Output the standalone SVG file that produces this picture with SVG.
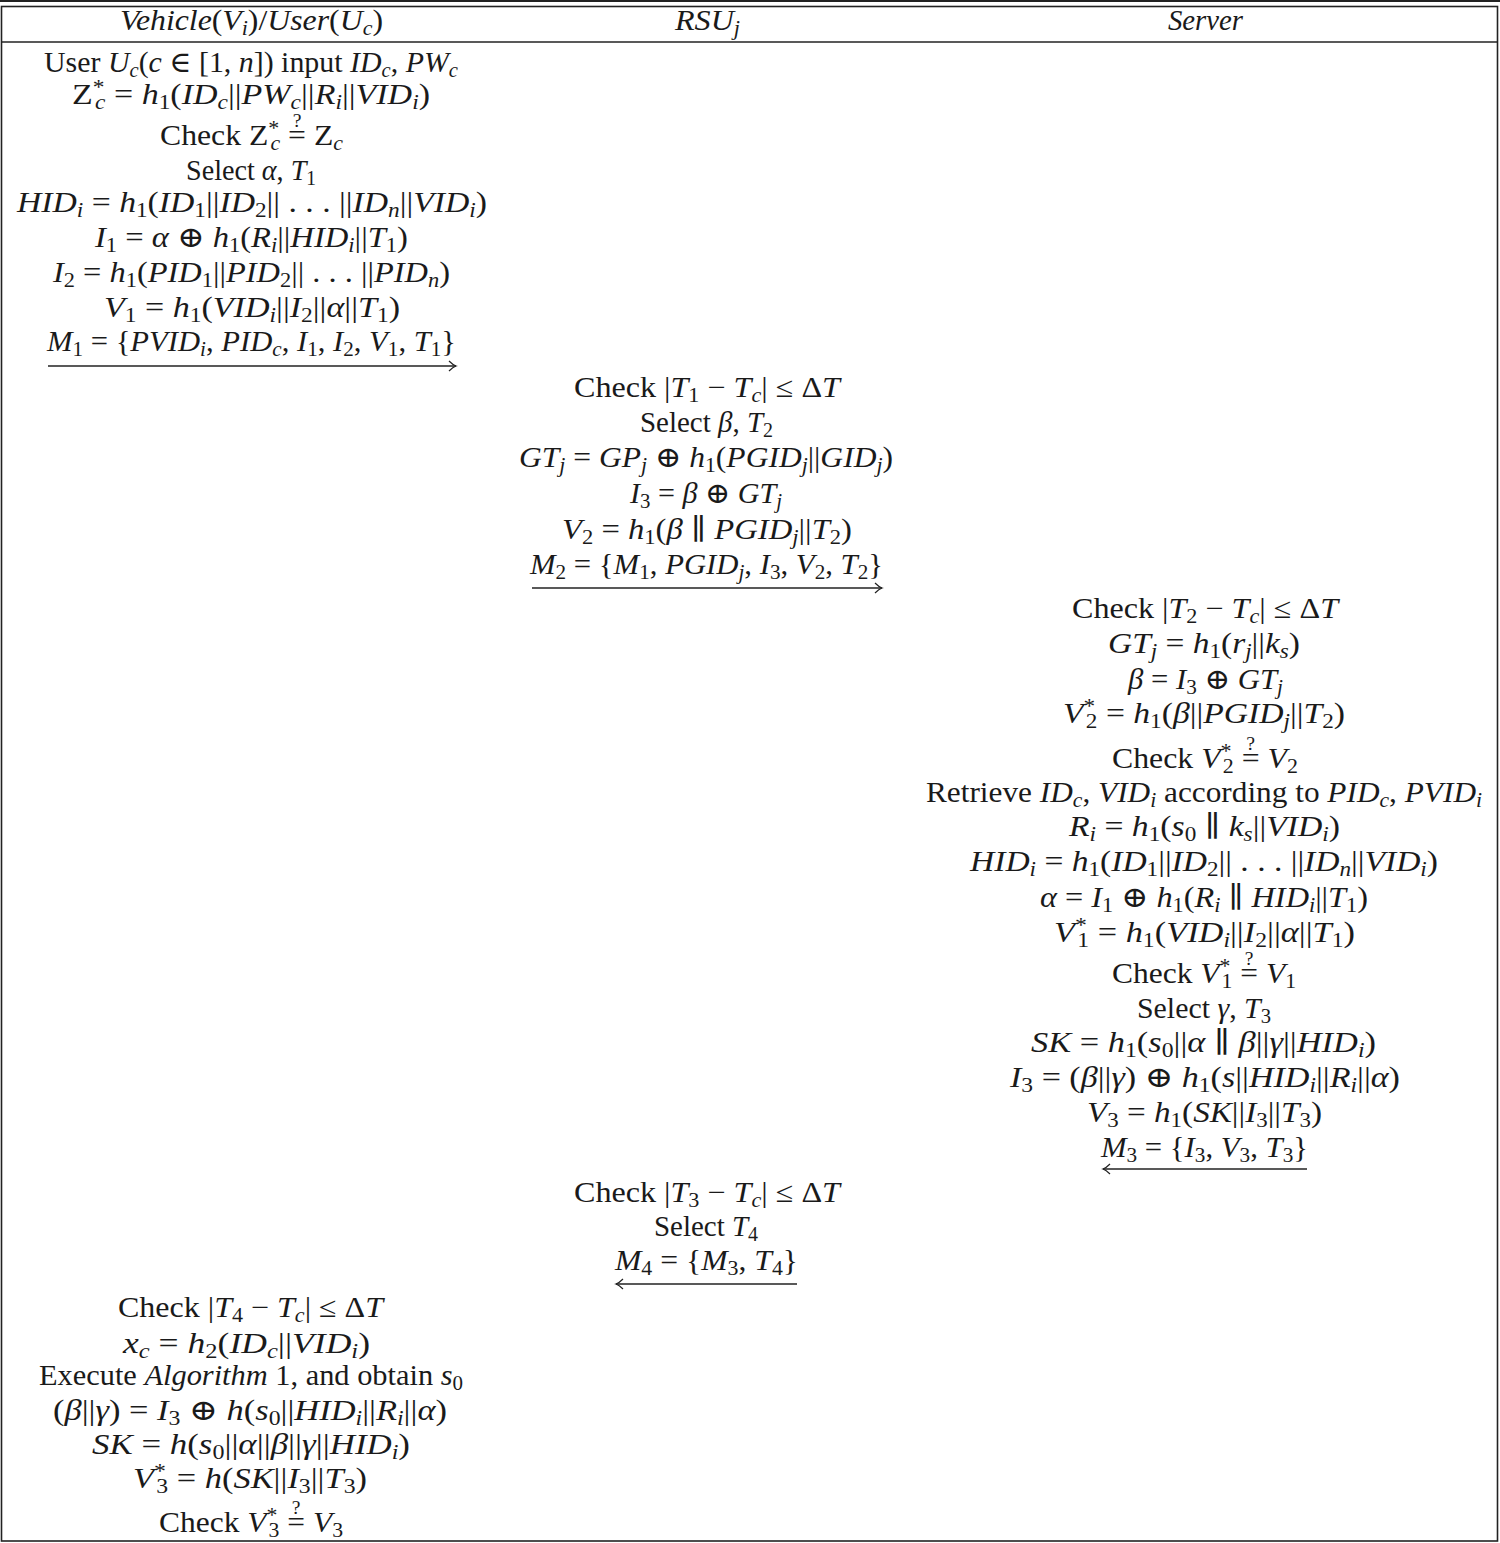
<svg xmlns="http://www.w3.org/2000/svg" width="1500" height="1543" viewBox="0 0 1500 1543">
<style>
text{font-family:"Liberation Serif","DejaVu Serif",serif;font-size:29px;fill:#1a1a1a}
.i{font-style:italic}
.b{font-size:20px;baseline-shift:-5px}
.bi{font-size:20px;baseline-shift:-5px;font-style:italic}
.p{font-size:20px;baseline-shift:10px}
.q{font-size:18px}
.ln{stroke:#222;fill:none}
.ar{stroke:#222;stroke-width:1.3;fill:none}
</style>
<defs>
<marker id="ah" viewBox="-10 -6 12 12" refX="0" refY="0" markerWidth="12" markerHeight="12" markerUnits="userSpaceOnUse" orient="auto">
<path d="M-7,-5 Q-3,-1 0,0 Q-3,1 -7,5" stroke="#222" stroke-width="1.2" fill="none"/>
</marker>
</defs>
<rect width="1500" height="1543" fill="#fff"/>
<g id="frame">
<line class="ln" x1="0" y1="1" x2="1500" y2="1" stroke-width="2"/>
<rect class="ln" x="1.5" y="6.5" width="1496" height="1534.5" stroke-width="1.6"/>
<line class="ln" x1="1.5" y1="42" x2="1497.5" y2="42" stroke-width="1.6" stroke="#444"/>
</g>
<g id="headers">
<text x="120" y="30" textLength="263" lengthAdjust="spacingAndGlyphs"><tspan class="i">Vehicle</tspan>(<tspan class="i">V</tspan><tspan class="bi">i</tspan>)/<tspan class="i">User</tspan>(<tspan class="i">U</tspan><tspan class="bi">c</tspan>)</text>
<text x="675" y="30" textLength="65" lengthAdjust="spacingAndGlyphs"><tspan class="i">RSU</tspan><tspan class="bi">j</tspan></text>
<text x="1168" y="30" textLength="75" lengthAdjust="spacingAndGlyphs" class="i">Server</text>
</g>
<g id="vehicle-step1">
<text x="44" y="72" textLength="414" lengthAdjust="spacingAndGlyphs">User <tspan class="i">U</tspan><tspan class="bi">c</tspan>(<tspan class="i">c</tspan> ∈ [1, <tspan class="i">n</tspan>]) input <tspan class="i">ID</tspan><tspan class="bi">c</tspan>, <tspan class="i">PW</tspan><tspan class="bi">c</tspan></text>
<text x="72" y="104" textLength="358" lengthAdjust="spacingAndGlyphs">Z<tspan class="p">*</tspan><tspan class="bi" dx="-8">c</tspan> = <tspan class="i">h</tspan><tspan class="b">1</tspan>(<tspan class="i">ID</tspan><tspan class="bi">c</tspan>||<tspan class="i">PW</tspan><tspan class="bi">c</tspan>||<tspan class="i">R</tspan><tspan class="bi">i</tspan>||<tspan class="i">VID</tspan><tspan class="bi">i</tspan>)</text>
<text x="160" y="145" textLength="183" lengthAdjust="spacingAndGlyphs">Check Z<tspan class="p">*</tspan><tspan class="bi" dx="-8">c</tspan> =<tspan class="q" dx="-12.2" dy="-18">?</tspan><tspan dx="4.2" dy="18"> Z</tspan><tspan class="bi">c</tspan></text>
<text x="186" y="180" textLength="130" lengthAdjust="spacingAndGlyphs">Select <tspan class="i">α</tspan>, <tspan class="i">T</tspan><tspan class="b">1</tspan></text>
<text x="17" y="212" textLength="470" lengthAdjust="spacingAndGlyphs"><tspan class="i">HID</tspan><tspan class="bi">i</tspan> = <tspan class="i">h</tspan><tspan class="b">1</tspan>(<tspan class="i">ID</tspan><tspan class="b">1</tspan>||<tspan class="i">ID</tspan><tspan class="b">2</tspan>|| . . . ||<tspan class="i">ID</tspan><tspan class="bi">n</tspan>||<tspan class="i">VID</tspan><tspan class="bi">i</tspan>)</text>
<text x="95" y="247" textLength="313" lengthAdjust="spacingAndGlyphs"><tspan class="i">I</tspan><tspan class="b">1</tspan> = <tspan class="i">α</tspan> ⊕ <tspan class="i">h</tspan><tspan class="b">1</tspan>(<tspan class="i">R</tspan><tspan class="bi">i</tspan>||<tspan class="i">HID</tspan><tspan class="bi">i</tspan>||<tspan class="i">T</tspan><tspan class="b">1</tspan>)</text>
<text x="53" y="282" textLength="397" lengthAdjust="spacingAndGlyphs"><tspan class="i">I</tspan><tspan class="b">2</tspan> = <tspan class="i">h</tspan><tspan class="b">1</tspan>(<tspan class="i">PID</tspan><tspan class="b">1</tspan>||<tspan class="i">PID</tspan><tspan class="b">2</tspan>|| . . . ||<tspan class="i">PID</tspan><tspan class="bi">n</tspan>)</text>
<text x="104" y="317" textLength="296" lengthAdjust="spacingAndGlyphs"><tspan class="i">V</tspan><tspan class="b">1</tspan> = <tspan class="i">h</tspan><tspan class="b">1</tspan>(<tspan class="i">VID</tspan><tspan class="bi">i</tspan>||<tspan class="i">I</tspan><tspan class="b">2</tspan>||<tspan class="i">α</tspan>||<tspan class="i">T</tspan><tspan class="b">1</tspan>)</text>
<text x="47" y="351" textLength="409" lengthAdjust="spacingAndGlyphs"><tspan class="i">M</tspan><tspan class="b">1</tspan> = {<tspan class="i">PVID</tspan><tspan class="bi">i</tspan>, <tspan class="i">PID</tspan><tspan class="bi">c</tspan>, <tspan class="i">I</tspan><tspan class="b">1</tspan>, <tspan class="i">I</tspan><tspan class="b">2</tspan>, <tspan class="i">V</tspan><tspan class="b">1</tspan>, <tspan class="i">T</tspan><tspan class="b">1</tspan>}</text>
</g>
<g id="rsu-step1">
<text x="574" y="397" textLength="266" lengthAdjust="spacingAndGlyphs">Check |<tspan class="i">T</tspan><tspan class="b">1</tspan> − <tspan class="i">T</tspan><tspan class="bi">c</tspan>| ≤ Δ<tspan class="i">T</tspan></text>
<text x="640" y="432" textLength="133" lengthAdjust="spacingAndGlyphs">Select <tspan class="i">β</tspan>, <tspan class="i">T</tspan><tspan class="b">2</tspan></text>
<text x="519" y="467" textLength="374" lengthAdjust="spacingAndGlyphs"><tspan class="i">GT</tspan><tspan class="bi">j</tspan> = <tspan class="i">GP</tspan><tspan class="bi">j</tspan> ⊕ <tspan class="i">h</tspan><tspan class="b">1</tspan>(<tspan class="i">PGID</tspan><tspan class="bi">j</tspan>||<tspan class="i">GID</tspan><tspan class="bi">j</tspan>)</text>
<text x="630" y="503" textLength="152" lengthAdjust="spacingAndGlyphs"><tspan class="i">I</tspan><tspan class="b">3</tspan> = <tspan class="i">β</tspan> ⊕ <tspan class="i">GT</tspan><tspan class="bi">j</tspan></text>
<text x="562" y="539" textLength="290" lengthAdjust="spacingAndGlyphs"><tspan class="i">V</tspan><tspan class="b">2</tspan> = <tspan class="i">h</tspan><tspan class="b">1</tspan>(<tspan class="i">β</tspan> ∥ <tspan class="i">PGID</tspan><tspan class="bi">j</tspan>||<tspan class="i">T</tspan><tspan class="b">2</tspan>)</text>
<text x="530" y="574" textLength="353" lengthAdjust="spacingAndGlyphs"><tspan class="i">M</tspan><tspan class="b">2</tspan> = {<tspan class="i">M</tspan><tspan class="b">1</tspan>, <tspan class="i">PGID</tspan><tspan class="bi">j</tspan>, <tspan class="i">I</tspan><tspan class="b">3</tspan>, <tspan class="i">V</tspan><tspan class="b">2</tspan>, <tspan class="i">T</tspan><tspan class="b">2</tspan>}</text>
</g>
<g id="server-step">
<text x="1072" y="618" textLength="266" lengthAdjust="spacingAndGlyphs">Check |<tspan class="i">T</tspan><tspan class="b">2</tspan> − <tspan class="i">T</tspan><tspan class="bi">c</tspan>| ≤ Δ<tspan class="i">T</tspan></text>
<text x="1108" y="653" textLength="192" lengthAdjust="spacingAndGlyphs"><tspan class="i">GT</tspan><tspan class="bi">j</tspan> = <tspan class="i">h</tspan><tspan class="b">1</tspan>(<tspan class="i">r</tspan><tspan class="bi">j</tspan>||<tspan class="i">k</tspan><tspan class="bi">s</tspan>)</text>
<text x="1128" y="689" textLength="155" lengthAdjust="spacingAndGlyphs"><tspan class="i">β</tspan> = <tspan class="i">I</tspan><tspan class="b">3</tspan> ⊕ <tspan class="i">GT</tspan><tspan class="bi">j</tspan></text>
<text x="1063" y="723" textLength="282" lengthAdjust="spacingAndGlyphs"><tspan class="i">V</tspan><tspan class="p">*</tspan><tspan class="b" dx="-8">2</tspan> = <tspan class="i">h</tspan><tspan class="b">1</tspan>(<tspan class="i">β</tspan>||<tspan class="i">PGID</tspan><tspan class="bi">j</tspan>||<tspan class="i">T</tspan><tspan class="b">2</tspan>)</text>
<text x="1112" y="768" textLength="186" lengthAdjust="spacingAndGlyphs">Check <tspan class="i">V</tspan><tspan class="p">*</tspan><tspan class="b" dx="-8">2</tspan> =<tspan class="q" dx="-12.2" dy="-18">?</tspan><tspan dx="4.2" dy="18"> </tspan><tspan class="i">V</tspan><tspan class="b">2</tspan></text>
<text x="926" y="802" textLength="556" lengthAdjust="spacingAndGlyphs">Retrieve <tspan class="i">ID</tspan><tspan class="bi">c</tspan>, <tspan class="i">VID</tspan><tspan class="bi">i</tspan> according to <tspan class="i">PID</tspan><tspan class="bi">c</tspan>, <tspan class="i">PVID</tspan><tspan class="bi">i</tspan></text>
<text x="1069" y="836" textLength="271" lengthAdjust="spacingAndGlyphs"><tspan class="i">R</tspan><tspan class="bi">i</tspan> = <tspan class="i">h</tspan><tspan class="b">1</tspan>(<tspan class="i">s</tspan><tspan class="b">0</tspan> ∥ <tspan class="i">k</tspan><tspan class="bi">s</tspan>||<tspan class="i">VID</tspan><tspan class="bi">i</tspan>)</text>
<text x="970" y="871" textLength="468" lengthAdjust="spacingAndGlyphs"><tspan class="i">HID</tspan><tspan class="bi">i</tspan> = <tspan class="i">h</tspan><tspan class="b">1</tspan>(<tspan class="i">ID</tspan><tspan class="b">1</tspan>||<tspan class="i">ID</tspan><tspan class="b">2</tspan>|| . . . ||<tspan class="i">ID</tspan><tspan class="bi">n</tspan>||<tspan class="i">VID</tspan><tspan class="bi">i</tspan>)</text>
<text x="1040" y="907" textLength="328" lengthAdjust="spacingAndGlyphs"><tspan class="i">α</tspan> = <tspan class="i">I</tspan><tspan class="b">1</tspan> ⊕ <tspan class="i">h</tspan><tspan class="b">1</tspan>(<tspan class="i">R</tspan><tspan class="bi">i</tspan> ∥ <tspan class="i">HID</tspan><tspan class="bi">i</tspan>||<tspan class="i">T</tspan><tspan class="b">1</tspan>)</text>
<text x="1054" y="942" textLength="301" lengthAdjust="spacingAndGlyphs"><tspan class="i">V</tspan><tspan class="p">*</tspan><tspan class="b" dx="-8">1</tspan> = <tspan class="i">h</tspan><tspan class="b">1</tspan>(<tspan class="i">VID</tspan><tspan class="bi">i</tspan>||<tspan class="i">I</tspan><tspan class="b">2</tspan>||<tspan class="i">α</tspan>||<tspan class="i">T</tspan><tspan class="b">1</tspan>)</text>
<text x="1112" y="983" textLength="184" lengthAdjust="spacingAndGlyphs">Check <tspan class="i">V</tspan><tspan class="p">*</tspan><tspan class="b" dx="-8">1</tspan> =<tspan class="q" dx="-12.2" dy="-18">?</tspan><tspan dx="4.2" dy="18"> </tspan><tspan class="i">V</tspan><tspan class="b">1</tspan></text>
<text x="1137" y="1018" textLength="134" lengthAdjust="spacingAndGlyphs">Select <tspan class="i">γ</tspan>, <tspan class="i">T</tspan><tspan class="b">3</tspan></text>
<text x="1031" y="1052" textLength="345" lengthAdjust="spacingAndGlyphs"><tspan class="i">SK</tspan> = <tspan class="i">h</tspan><tspan class="b">1</tspan>(<tspan class="i">s</tspan><tspan class="b">0</tspan>||<tspan class="i">α</tspan> ∥ <tspan class="i">β</tspan>||<tspan class="i">γ</tspan>||<tspan class="i">HID</tspan><tspan class="bi">i</tspan>)</text>
<text x="1010" y="1087" textLength="390" lengthAdjust="spacingAndGlyphs"><tspan class="i">I</tspan><tspan class="b">3</tspan> = (<tspan class="i">β</tspan>||<tspan class="i">γ</tspan>) ⊕ <tspan class="i">h</tspan><tspan class="b">1</tspan>(<tspan class="i">s</tspan>||<tspan class="i">HID</tspan><tspan class="bi">i</tspan>||<tspan class="i">R</tspan><tspan class="bi">i</tspan>||<tspan class="i">α</tspan>)</text>
<text x="1087" y="1122" textLength="235" lengthAdjust="spacingAndGlyphs"><tspan class="i">V</tspan><tspan class="b">3</tspan> = <tspan class="i">h</tspan><tspan class="b">1</tspan>(<tspan class="i">SK</tspan>||<tspan class="i">I</tspan><tspan class="b">3</tspan>||<tspan class="i">T</tspan><tspan class="b">3</tspan>)</text>
<text x="1101" y="1157" textLength="207" lengthAdjust="spacingAndGlyphs"><tspan class="i">M</tspan><tspan class="b">3</tspan> = {<tspan class="i">I</tspan><tspan class="b">3</tspan>, <tspan class="i">V</tspan><tspan class="b">3</tspan>, <tspan class="i">T</tspan><tspan class="b">3</tspan>}</text>
</g>
<g id="rsu-step2">
<text x="574" y="1202" textLength="266" lengthAdjust="spacingAndGlyphs">Check |<tspan class="i">T</tspan><tspan class="b">3</tspan> − <tspan class="i">T</tspan><tspan class="bi">c</tspan>| ≤ Δ<tspan class="i">T</tspan></text>
<text x="654" y="1236" textLength="104" lengthAdjust="spacingAndGlyphs">Select <tspan class="i">T</tspan><tspan class="b">4</tspan></text>
<text x="615" y="1270" textLength="183" lengthAdjust="spacingAndGlyphs"><tspan class="i">M</tspan><tspan class="b">4</tspan> = {<tspan class="i">M</tspan><tspan class="b">3</tspan>, <tspan class="i">T</tspan><tspan class="b">4</tspan>}</text>
</g>
<g id="vehicle-step2">
<text x="118" y="1317" textLength="265" lengthAdjust="spacingAndGlyphs">Check |<tspan class="i">T</tspan><tspan class="b">4</tspan> − <tspan class="i">T</tspan><tspan class="bi">c</tspan>| ≤ Δ<tspan class="i">T</tspan></text>
<text x="123" y="1353" textLength="247" lengthAdjust="spacingAndGlyphs"><tspan class="i">x</tspan><tspan class="bi">c</tspan> = <tspan class="i">h</tspan><tspan class="b">2</tspan>(<tspan class="i">ID</tspan><tspan class="bi">c</tspan>||<tspan class="i">VID</tspan><tspan class="bi">i</tspan>)</text>
<text x="39" y="1385" textLength="424" lengthAdjust="spacingAndGlyphs">Execute <tspan class="i">Algorithm</tspan> 1, and obtain <tspan class="i">s</tspan><tspan class="b">0</tspan></text>
<text x="53" y="1420" textLength="394" lengthAdjust="spacingAndGlyphs">(<tspan class="i">β</tspan>||<tspan class="i">γ</tspan>) = <tspan class="i">I</tspan><tspan class="b">3</tspan> ⊕ <tspan class="i">h</tspan>(<tspan class="i">s</tspan><tspan class="b">0</tspan>||<tspan class="i">HID</tspan><tspan class="bi">i</tspan>||<tspan class="i">R</tspan><tspan class="bi">i</tspan>||<tspan class="i">α</tspan>)</text>
<text x="92" y="1454" textLength="318" lengthAdjust="spacingAndGlyphs"><tspan class="i">SK</tspan> = <tspan class="i">h</tspan>(<tspan class="i">s</tspan><tspan class="b">0</tspan>||<tspan class="i">α</tspan>||<tspan class="i">β</tspan>||<tspan class="i">γ</tspan>||<tspan class="i">HID</tspan><tspan class="bi">i</tspan>)</text>
<text x="133" y="1488" textLength="234" lengthAdjust="spacingAndGlyphs"><tspan class="i">V</tspan><tspan class="p">*</tspan><tspan class="b" dx="-8">3</tspan> = <tspan class="i">h</tspan>(<tspan class="i">SK</tspan>||<tspan class="i">I</tspan><tspan class="b">3</tspan>||<tspan class="i">T</tspan><tspan class="b">3</tspan>)</text>
<text x="159" y="1532" textLength="184" lengthAdjust="spacingAndGlyphs">Check <tspan class="i">V</tspan><tspan class="p">*</tspan><tspan class="b" dx="-8">3</tspan> =<tspan class="q" dx="-12.2" dy="-18">?</tspan><tspan dx="4.2" dy="18"> </tspan><tspan class="i">V</tspan><tspan class="b">3</tspan></text>
</g>
<g id="connectors">
<line class="ar" x1="48" y1="366" x2="456" y2="366" marker-end="url(#ah)"/>
<line class="ar" x1="532" y1="588" x2="882" y2="588" marker-end="url(#ah)"/>
<line class="ar" x1="1307" y1="1169" x2="1103" y2="1169" marker-end="url(#ah)"/>
<line class="ar" x1="797" y1="1284" x2="616" y2="1284" marker-end="url(#ah)"/>
</g>
</svg>
